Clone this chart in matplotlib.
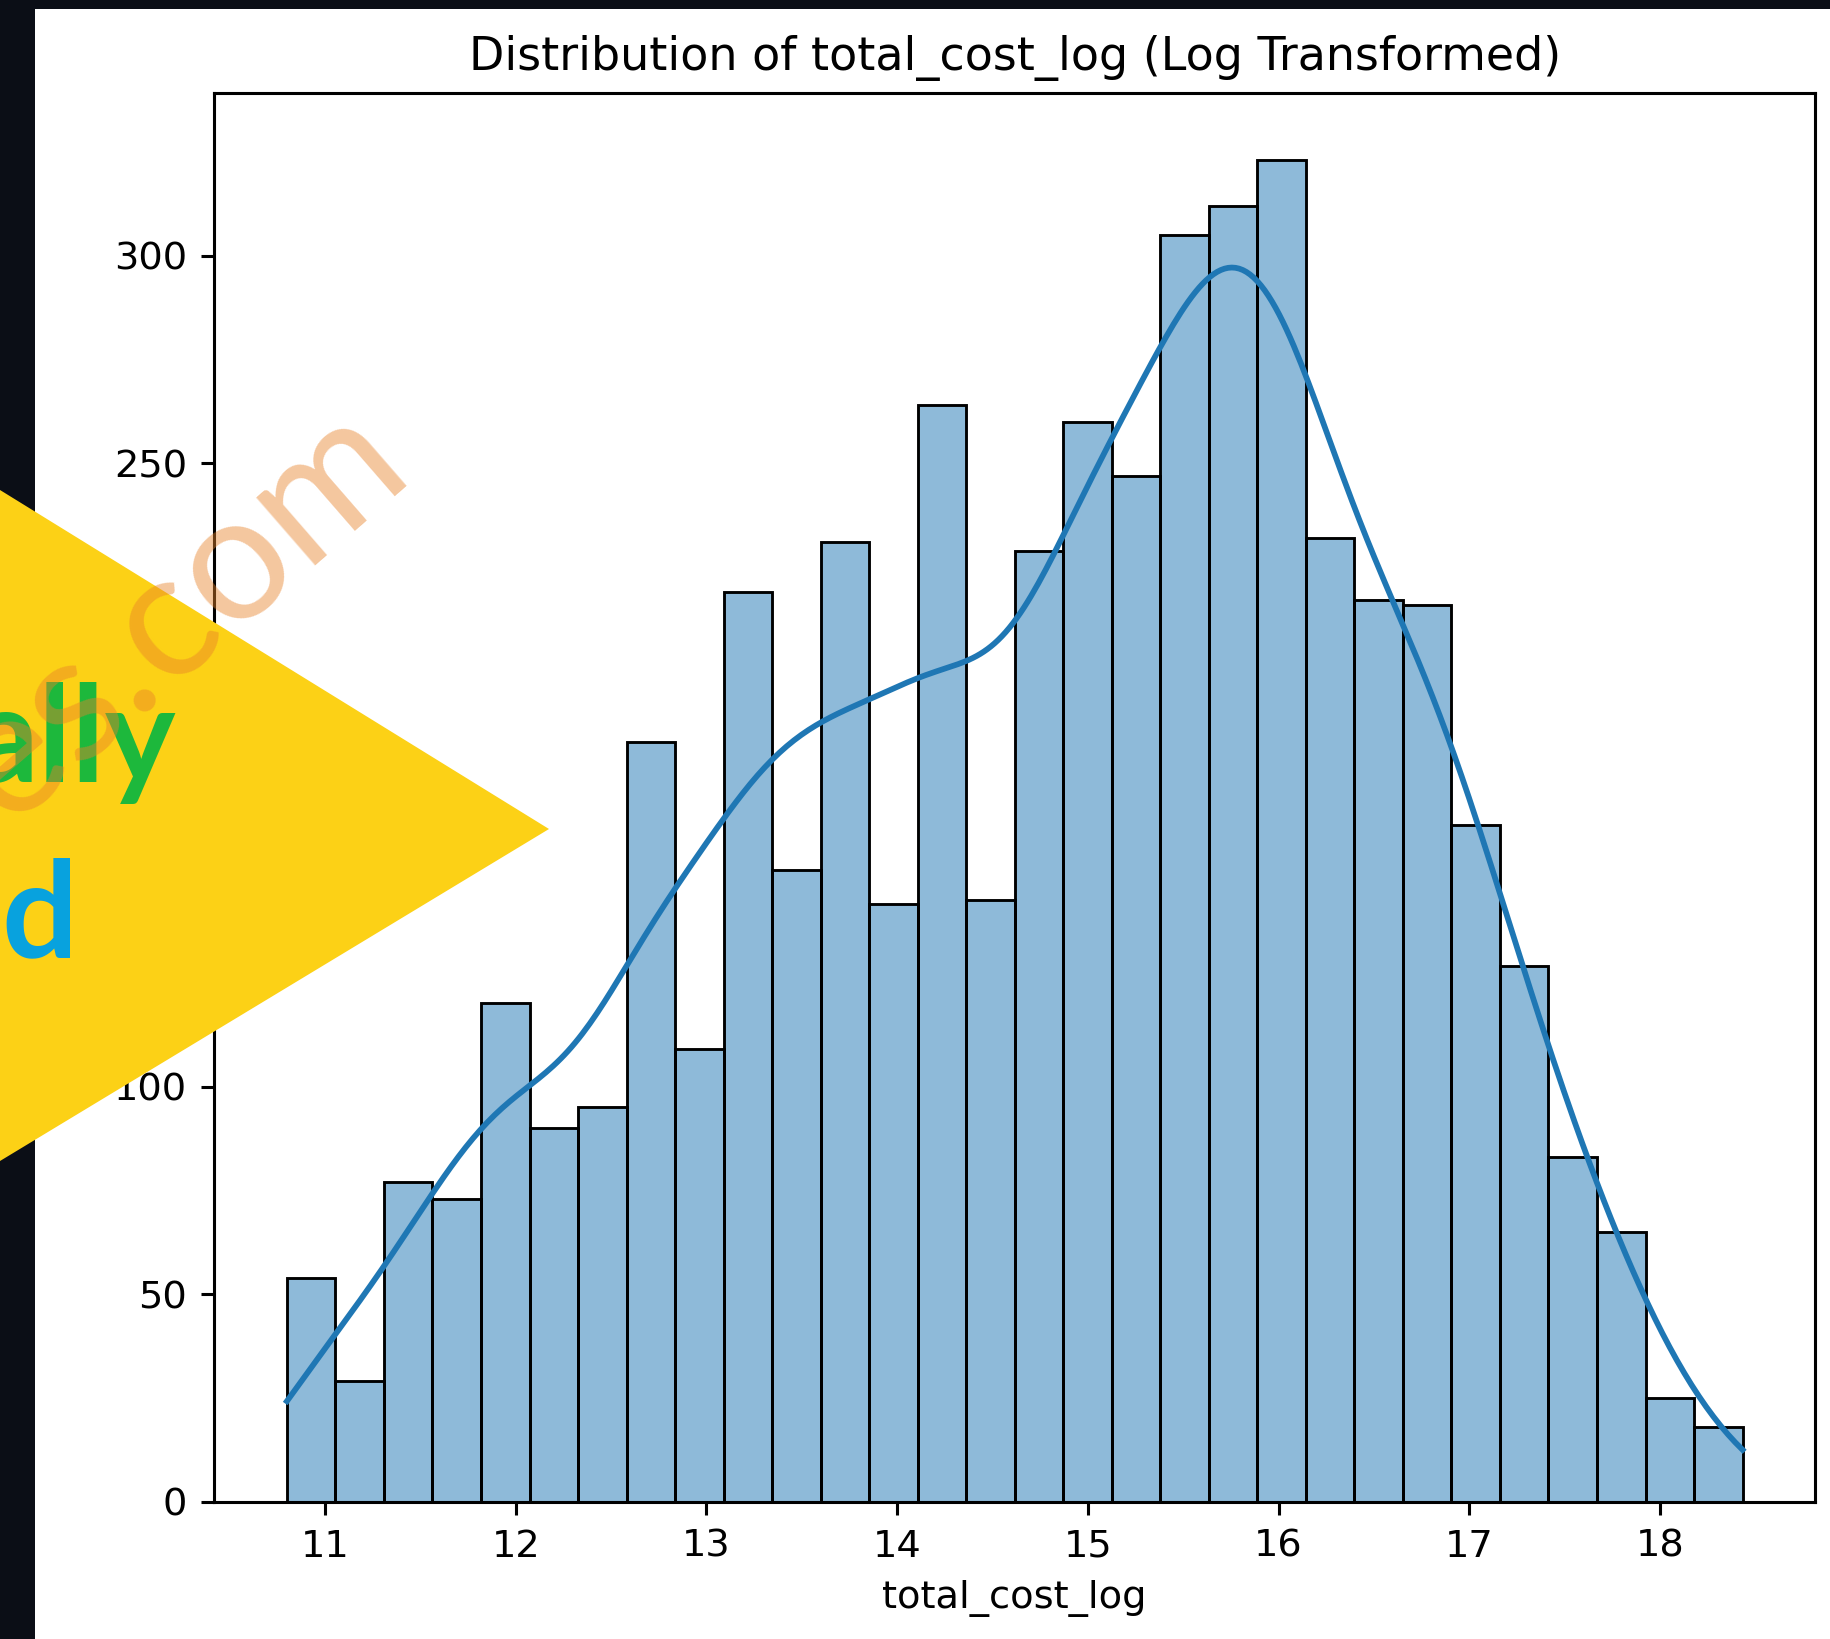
import math
import numpy as np
import matplotlib
matplotlib.use("Agg")
import matplotlib.pyplot as plt
from matplotlib.patches import Rectangle, Polygon

# Histogram of log-transformed total cost: 30 equal-width bins
bin_lo = 10.80
bin_hi = 18.433
counts = [54, 29, 77, 73, 120, 90, 95, 183, 109, 219,
          152, 231, 144, 264, 145, 229, 260, 247, 305, 312,
          323, 232, 217, 216, 163, 129, 83, 65, 25, 18]
x_ticks = [11, 12, 13, 14, 15, 16, 17, 18]
y_ticks = [0, 50, 100, 150, 200, 250, 300]

title = "Distribution of total_cost_log (Log Transformed)"
x_label = "total_cost_log"
y_label = "Count"

counts = np.asarray(counts, dtype=float)
edges = np.linspace(bin_lo, bin_hi, len(counts) + 1)
width = edges[1] - edges[0]

# Smoothed density from the binned counts (each bin spread uniformly,
# convolved with a Gaussian kernel, Scott's bandwidth), on the count scale.
n = counts.sum()
centers = 0.5 * (edges[:-1] + edges[1:])
mean = (counts * centers).sum() / n
std = math.sqrt((counts * (centers - mean) ** 2).sum() / n + width ** 2 / 12)
bw = std * n ** (-1 / 5)
erf = np.frompyfunc(math.erf, 1, 1)


def phi(z):
    return 0.5 * (1 + erf(z / math.sqrt(2)).astype(float))


grid = np.linspace(bin_lo, bin_hi, 400)
kde = np.zeros_like(grid)
for c, a, b in zip(counts, edges[:-1], edges[1:]):
    kde += c * (phi((grid - a) / bw) - phi((grid - b) / bw))

DPI = 276
fig = plt.figure(figsize=(1830 / DPI, 1639 / DPI), dpi=DPI)
fig.patch.set_facecolor("white")
ax = fig.add_axes([0.117, 0.0836, 0.875, 0.8597])

ax.bar(edges[:-1], counts, width=width, align="edge",
       color="#1f77b4", alpha=0.5, edgecolor="none", zorder=2)
ax.bar(edges[:-1], counts, width=width, align="edge",
       fill=False, edgecolor="black", linewidth=0.75, zorder=3)
ax.plot(grid, kde, color="#1f77b4", linewidth=1.5, zorder=4)

span = bin_hi - bin_lo
ax.set_xlim(bin_lo - 0.05 * span, bin_hi + 0.05 * span)
ax.set_ylim(0, counts.max() * 1.05)
ax.set_xticks(x_ticks)
ax.set_yticks(y_ticks)
ax.set_title(title, fontsize=12)
ax.set_xlabel(x_label)
ax.set_ylabel(y_label)

# Dark page frame along the top and left edges
fig.add_artist(Rectangle((0, 0), 35 / 1830, 1, transform=fig.transFigure,
                         facecolor="#0b0e16", edgecolor="none", zorder=5))
fig.add_artist(Rectangle((0, 1 - 9 / 1639), 1, 9 / 1639, transform=fig.transFigure,
                         facecolor="#0b0e16", edgecolor="none", zorder=5))


def fxy(px, py):
    return (px / 1830, 1 - py / 1639)


# Yellow arrow banner with its lettering
fig.add_artist(Polygon([fxy(0, 490), fxy(549, 829), fxy(0, 1161)], closed=True,
                       transform=fig.transFigure, facecolor="#fcd116",
                       edgecolor="none", zorder=6))
fig.text(*fxy(176, 782), "ally", ha="right", va="baseline", fontsize=35,
         fontweight="bold", family=["Lato", "DejaVu Sans"], color="#1db83c", zorder=7)
fig.text(*fxy(77, 957), "d", ha="right", va="baseline", fontsize=35,
         fontweight="bold", family=["Lato", "DejaVu Sans"], color="#08a2de", zorder=7)

# Site watermark
fig.text(*fxy(178, 612), "es.com", ha="center", va="center", fontsize=46,
         rotation=41, rotation_mode="anchor", fontweight="normal",
         family=["Lato", "DejaVu Sans"],
         color="#e8822a", alpha=0.45, zorder=8)

fig.savefig("out.png", dpi=DPI, facecolor=fig.get_facecolor())
